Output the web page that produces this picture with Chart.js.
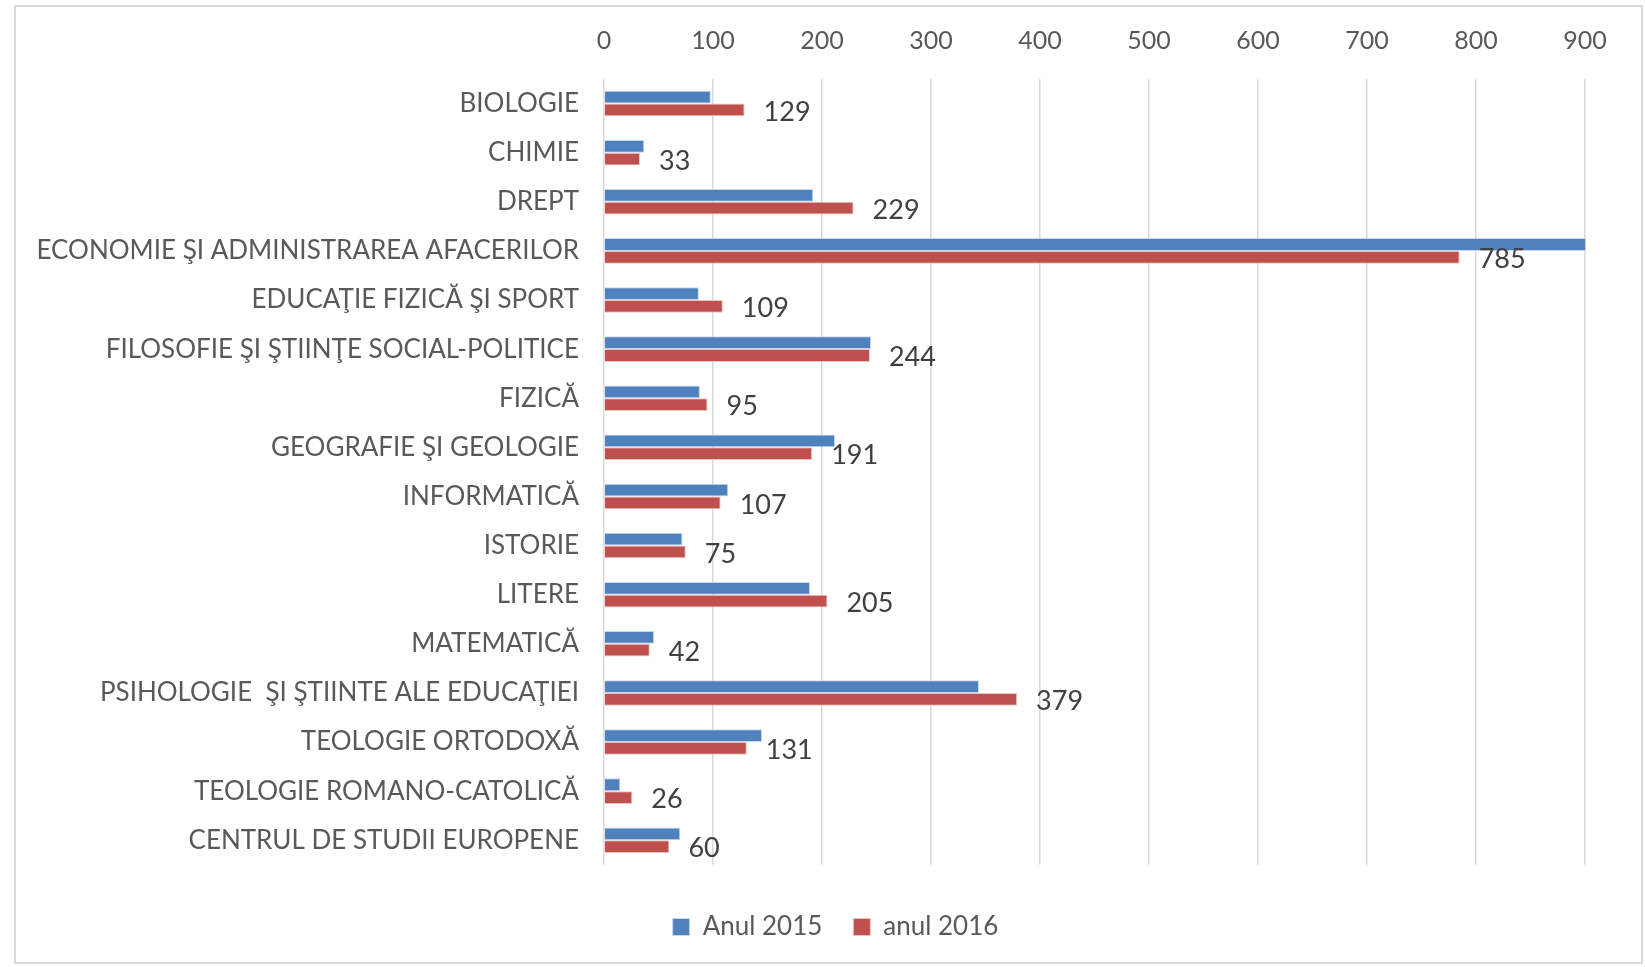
<!DOCTYPE html>
<html lang="ro">
<head>
    <meta charset="UTF-8">
    <title>Anul 2015 / anul 2016</title>
    <style>
        body {
            margin: 0;
            padding: 0;
            background: #ffffff;
        }

        .frame {
            position: absolute;
            left: 14px;
            top: 5px;
            width: 1625px;
            height: 955px;
            border: 2px solid #d9d9d9;
        }

        #wrap {
            position: absolute;
            left: 0;
            top: 0;
            width: 1645px;
            height: 967px;
        }
    </style>
    <script src="https://cdn.jsdelivr.net/npm/chart.js"></script>
</head>
<body>
    <div class="frame"></div>
    <div id="wrap"><canvas id="graph"></canvas></div>
    <script>
        const categories = [
            'BIOLOGIE',
            'CHIMIE',
            'DREPT',
            'ECONOMIE ŞI ADMINISTRAREA AFACERILOR',
            'EDUCAŢIE FIZICĂ ŞI SPORT',
            'FILOSOFIE ŞI ŞTIINŢE SOCIAL-POLITICE',
            'FIZICĂ',
            'GEOGRAFIE ŞI GEOLOGIE',
            'INFORMATICĂ',
            'ISTORIE',
            'LITERE',
            'MATEMATICĂ',
            'PSIHOLOGIE  ŞI ŞTIINTE ALE EDUCAŢIEI',
            'TEOLOGIE ORTODOXĂ',
            'TEOLOGIE ROMANO-CATOLICĂ',
            'CENTRUL DE STUDII EUROPENE'
        ];
        const values2015 = [98, 37, 192, 901, 87, 245, 88, 212, 114, 72, 189, 46, 344, 145, 15, 70];
        const values2016 = [129, 33, 229, 785, 109, 244, 95, 191, 107, 75, 205, 42, 379, 131, 26, 60];
        const xTicks = [0, 100, 200, 300, 400, 500, 600, 700, 800, 900];

        const textColor = '#595959';

        // value labels on the 2016 bars, right of the bar end
        const valueLabels = {
            id: 'valueLabels',
            afterDatasetsDraw(chart) {
                const ctx = chart.ctx;
                const meta = chart.getDatasetMeta(1);
                ctx.save();
                ctx.font = '27px Lato';
                ctx.fillStyle = '#404040';
                ctx.textAlign = 'left';
                ctx.textBaseline = 'middle';
                meta.data.forEach((bar, i) => {
                    ctx.fillText(values2016[i], bar.x + 19, bar.y + 2);
                });
                ctx.restore();
            }
        };

        // move the legend a bit right, like in the original
        const legendShift = {
            id: 'legendShift',
            afterLayout(chart) {
                chart.legend.left += 43;
                chart.legend.right += 43;
            }
        };

        const ctx = document.getElementById('graph').getContext('2d');
        new Chart(ctx, {
            type: 'bar',
            data: {
                labels: categories,
                datasets: [
                    {
                        label: 'Anul 2015',
                        data: values2015,
                        backgroundColor: '#4f81bd',
                        borderColor: '#c9d7ea',
                        borderWidth: 1,
                        clip: false
                    },
                    {
                        label: 'anul 2016',
                        data: values2016,
                        backgroundColor: '#c0504d',
                        borderColor: '#e9c3c2',
                        borderWidth: 1
                    }
                ]
            },
            options: {
                indexAxis: 'y',
                responsive: true,
                maintainAspectRatio: false,
                animation: false,
                layout: {
                    padding: { left: 0, right: 60, top: 0, bottom: 17 }
                },
                datasets: {
                    bar: {
                        barPercentage: 1.0,
                        categoryPercentage: 0.52
                    }
                },
                scales: {
                    x: {
                        position: 'top',
                        min: 0,
                        max: 900,
                        afterBuildTicks: axis => {
                            axis.ticks = xTicks.map(v => ({ value: v }));
                        },
                        afterFit: axis => {
                            axis.height = 79;
                        },
                        grid: {
                            color: '#d9d9d9',
                            lineWidth: 1.5,
                            drawTicks: false
                        },
                        border: { display: false },
                        ticks: {
                            color: textColor,
                            font: { family: 'Lato', size: 25 },
                            padding: 23
                        }
                    },
                    y: {
                        afterFit: axis => {
                            axis.width = 604;
                        },
                        grid: { display: false },
                        border: { display: false },
                        ticks: {
                            color: textColor,
                            font: { family: 'Lato', size: 26 },
                            padding: 17,
                            autoSkip: false
                        }
                    }
                },
                plugins: {
                    legend: {
                        position: 'bottom',
                        title: {
                            display: true,
                            text: '',
                            font: { size: 1 },
                            padding: { top: 17, bottom: 0 }
                        },
                        labels: {
                            color: textColor,
                            font: { family: 'Lato', size: 26 },
                            boxWidth: 17,
                            boxHeight: 17,
                            padding: 31
                        }
                    },
                    tooltip: { enabled: false }
                }
            },
            plugins: [valueLabels, legendShift]
        });
    </script>
</body>
</html>
